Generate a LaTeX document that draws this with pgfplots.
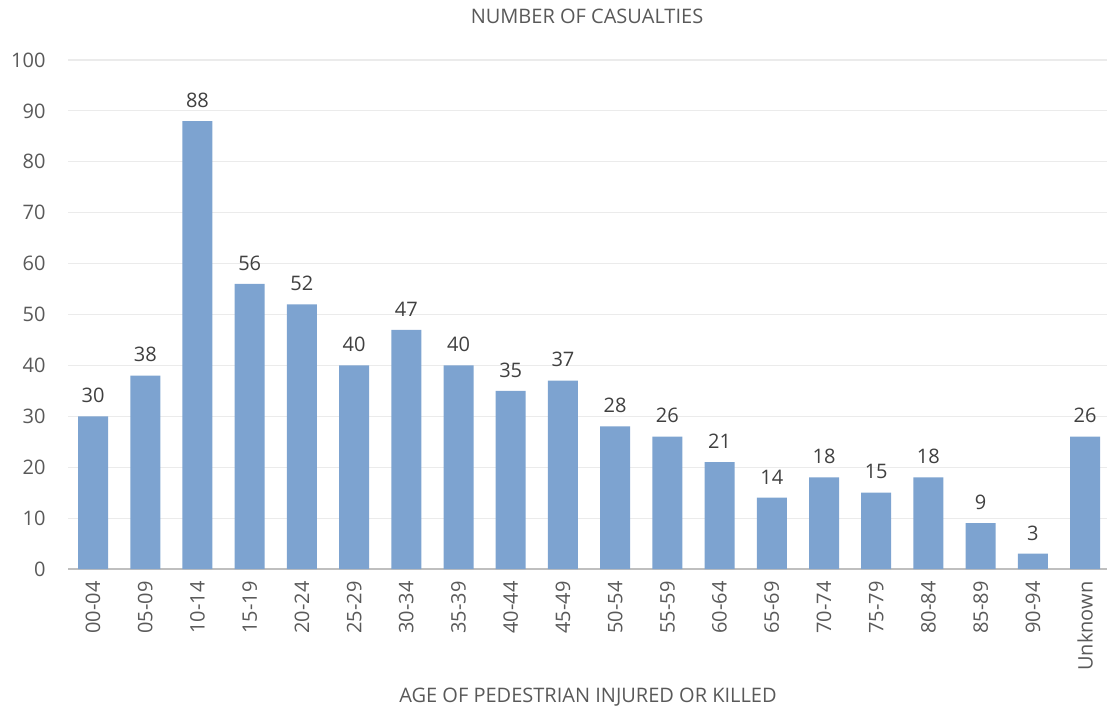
\documentclass[border=0pt]{standalone}
\usepackage{pgfplots}
\pgfplotsset{compat=1.18}
\usepackage{fontspec}
\setmainfont{Open Sans}
\definecolor{barblue}{HTML}{7DA3D0}
\definecolor{ticktxt}{HTML}{595959}
\definecolor{lbltxt}{HTML}{404040}
\definecolor{gridc}{HTML}{EBEBEB}
\definecolor{axisc}{HTML}{BFBFBF}
\begin{document}
\begin{tikzpicture}[x=1pt,y=1pt]
\useasboundingbox (0,0) rectangle (1107,713);
\begin{axis}[
  at={(68pt,144pt)}, anchor=south west,
  scale only axis,
  width=1039pt, height=509pt,
  xmin=-0.48, xmax=19.42,
  ymin=0, ymax=100,
  ytick={0,10,...,100},
  xtick={0,...,19},
  xticklabels={00-04,05-09,10-14,15-19,20-24,25-29,30-34,35-39,40-44,45-49,50-54,55-59,60-64,65-69,70-74,75-79,80-84,85-89,90-94,Unknown},
  x tick label style={rotate=90, anchor=east, font=\fontsize{20}{24}\selectfont, text=ticktxt},
  y tick label style={font=\fontsize{20}{24}\selectfont, text=ticktxt},
  /pgf/number format/assume math mode=true,
  major tick length=0pt,
  ymajorgrids, grid style={gridc, line width=1.2pt},
  axis x line*=bottom, axis y line*=left,
  x axis line style={axisc, line width=2pt, -},
  y axis line style={draw=none},
  yticklabel style={xshift=-19pt},
  xticklabel shift=9pt,
  clip=false,
]
\addplot[ybar, bar width=30pt, fill=barblue, draw=none,
  nodes near coords,
  every node near coord/.append style={font=\fontsize{20}{24}\selectfont, text=lbltxt, yshift=10pt},
] coordinates {
(0,30) (1,38) (2,88) (3,56) (4,52) (5,40) (6,47) (7,40) (8,35) (9,37)
(10,28) (11,26) (12,21) (13,14) (14,18) (15,15) (16,18) (17,9) (18,3) (19,26)
};
\end{axis}
\node[font=\fontsize{20}{24}\selectfont, text=ticktxt] at (587,697) {NUMBER OF CASUALTIES};
\node[font=\fontsize{20}{24}\selectfont, text=ticktxt] at (588,16) {AGE OF PEDESTRIAN INJURED OR KILLED};
\end{tikzpicture}
\end{document}
